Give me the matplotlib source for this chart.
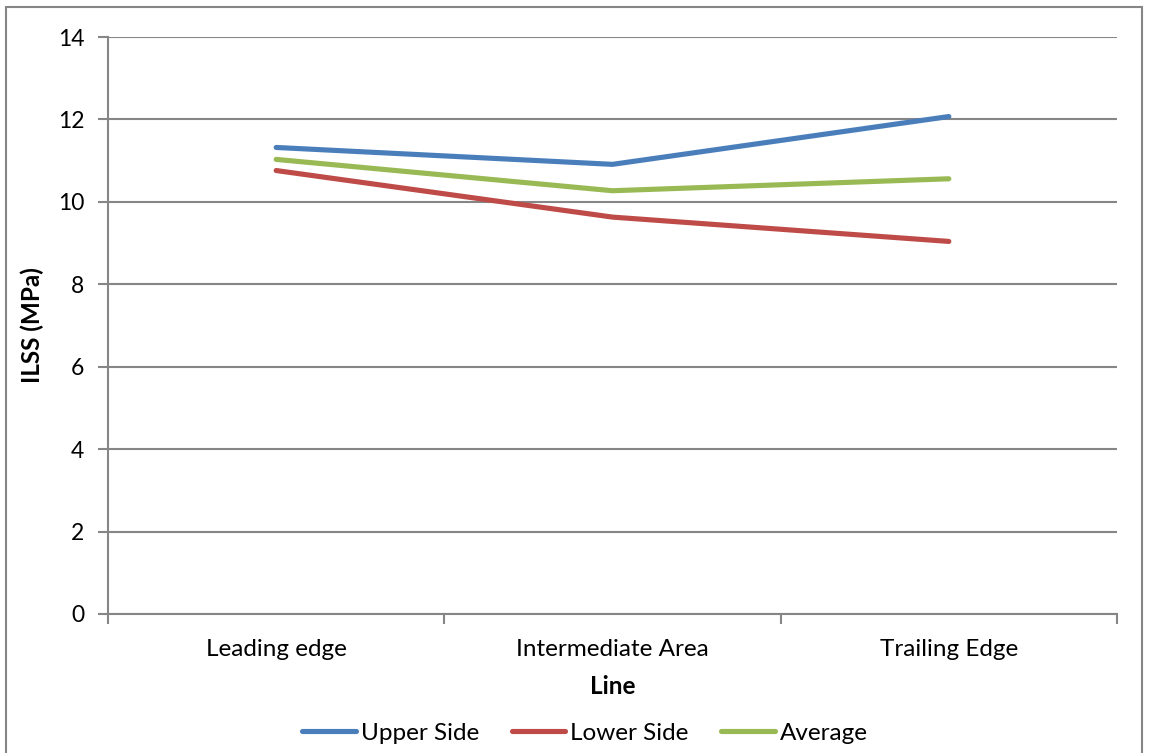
import matplotlib
matplotlib.use("Agg")
import matplotlib.pyplot as plt
from matplotlib.patches import Rectangle

categories = ["Leading edge", "Intermediate Area", "Trailing Edge"]
upper_side = [11.32, 10.91, 12.07]
lower_side = [10.76, 9.63, 9.04]
average = [11.03, 10.27, 10.56]
y_ticks = [0, 2, 4, 6, 8, 10, 12, 14]

plt.rcParams['font.family'] = ['Lato', 'DejaVu Sans']

fig = plt.figure(figsize=(11.49, 7.53), dpi=100)
ax = fig.add_axes([108/1149, 1-614/753, (1117-108)/1149, (614-37)/753])

grid_c = '#868686'
x = list(range(len(categories)))
ax.plot(x, upper_side, color='#4a7ebb', lw=3.7, solid_capstyle='round', label='Upper Side', zorder=3)
ax.plot(x, lower_side, color='#be4b48', lw=3.7, solid_capstyle='round', label='Lower Side', zorder=3)
ax.plot(x, average, color='#98b954', lw=3.7, solid_capstyle='round', label='Average', zorder=3)

ax.set_xlim(-0.5, len(categories) - 0.5)
ax.set_ylim(0, 14)
ax.set_yticks(y_ticks)
ax.set_yticklabels([str(v) for v in y_ticks], fontsize=16.5)
ax.yaxis.grid(True, color=grid_c, lw=1.5)
ax.set_axisbelow(True)

ax.set_xticks([i - 0.5 for i in range(len(categories) + 1)])
ax.set_xticklabels([])
ax.set_xticks(x, minor=True)
ax.set_xticklabels(categories, minor=True, fontsize=17.5)
ax.tick_params(axis='x', which='minor', length=0, pad=18)
ax.tick_params(axis='x', which='major', length=7, width=1.5, color=grid_c)
ax.tick_params(axis='y', length=7, width=1.5, color=grid_c, pad=10)

for s in ['top', 'right']:
    ax.spines[s].set_visible(False)
for s in ['left', 'bottom']:
    ax.spines[s].set_color(grid_c)
    ax.spines[s].set_linewidth(1.5)

ax.set_ylabel('ILSS (MPa)', fontsize=17.5, fontweight='bold', va='center')
ax.yaxis.set_label_coords((32.5 - 108) / 1009, 0.5)
ax.set_xlabel('Line', fontsize=17.5, fontweight='bold', va='center')
ax.xaxis.set_label_coords(0.5, (614 - 686) / 577)

leg = fig.legend(loc='center', bbox_to_anchor=(585/1149, 1-733/753), ncol=3, frameon=False,
                 fontsize=17.5, handlelength=2.2, handletextpad=0.2, columnspacing=1.35)

fig.patches.append(Rectangle((6/1149, -0.01), (1142-6)/1149, 1-7/753+0.01,
                             transform=fig.transFigure, fill=False, edgecolor='#868686', lw=1.5))

fig.savefig('out.png', dpi=100)
